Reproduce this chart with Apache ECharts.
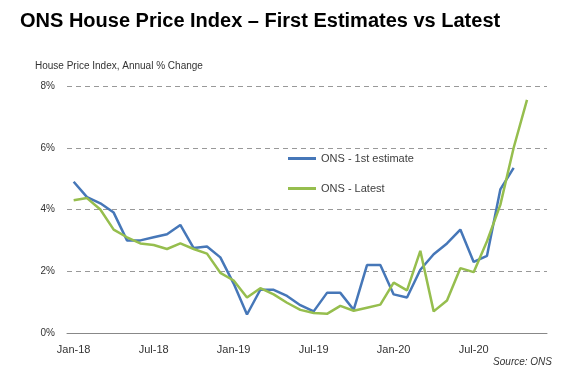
<!DOCTYPE html>
<html>
<head>
<meta charset="utf-8">
<script src="https://cdn.jsdelivr.net/npm/echarts@6/dist/echarts.min.js"></script>
<style>
  html, body { margin: 0; padding: 0; background: #fff; }
  #chart { width: 566px; height: 376px; }
</style>
</head>
<body>
<div id="chart"></div>
<script>
// months Jan-18 .. Dec-20
const months = [
  "Jan-18", "Feb-18", "Mar-18", "Apr-18", "May-18", "Jun-18",
  "Jul-18", "Aug-18", "Sep-18", "Oct-18", "Nov-18", "Dec-18",
  "Jan-19", "Feb-19", "Mar-19", "Apr-19", "May-19", "Jun-19",
  "Jul-19", "Aug-19", "Sep-19", "Oct-19", "Nov-19", "Dec-19",
  "Jan-20", "Feb-20", "Mar-20", "Apr-20", "May-20", "Jun-20",
  "Jul-20", "Aug-20", "Sep-20", "Oct-20", "Nov-20", "Dec-20",
];

// annual % change
const firstEstimate = [
  4.9, 4.4, 4.2, 3.9, 3.0, 3.0, 3.1, 3.2, 3.5, 2.75, 2.8, 2.45,
  1.6, 0.6, 1.4, 1.4, 1.2, 0.9, 0.7, 1.3, 1.3, 0.75, 2.2, 2.2,
  1.25, 1.15, 2.05, 2.55, 2.9, 3.35, 2.3, 2.5, 4.65, 5.35, null, null,
];
const latest = [
  4.3, 4.37, 4.0, 3.35, 3.1, 2.9, 2.85, 2.72, 2.9, 2.72, 2.57, 1.95,
  1.7, 1.15, 1.45, 1.25, 0.98, 0.75, 0.65, 0.62, 0.88, 0.72, 0.82, 0.92,
  1.63, 1.38, 2.66, 0.7, 1.05, 2.1, 1.97, 2.97, 4.15, 6.0, 7.55, null,
];

const chart = echarts.init(document.getElementById("chart"));
const font = "Liberation Sans, Arial, sans-serif";

const option = {
  backgroundColor: "#fff",
  animation: false,
  title: [
    {
      text: "ONS House Price Index – First Estimates vs Latest",
      left: 15,
      top: 6,
      textStyle: { fontFamily: font, fontSize: 20, fontWeight: "bold", color: "#000" },
    },
    {
      text: "House Price Index, Annual % Change",
      left: 30,
      top: 56,
      textStyle: { fontFamily: font, fontSize: 10, fontWeight: "normal", color: "#333" },
    },
  ],
  graphic: [
    {
      type: "text",
      right: 14,
      top: 357,
      style: {
        text: "Source: ONS",
        font: "italic 10px " + font,
        fill: "#333",
      },
    },
  ],
  legend: {
    orient: "vertical",
    left: 283,
    top: 148,
    itemGap: 19,
    itemWidth: 28,
    itemHeight: 3,
    icon: "rect",
    textStyle: { fontFamily: font, fontSize: 11, color: "#404040" },
    data: ["ONS - 1st estimate", "ONS - Latest"],
  },
  grid: {
    left: 67,
    right: 19,
    top: 86,
    bottom: 43,
  },
  xAxis: {
    type: "category",
    data: months,
    boundaryGap: true,
    axisLine: { lineStyle: { color: "#888", width: 1 } },
    axisTick: { interval: 5, length: 3, lineStyle: { color: "#888" } },
    axisLabel: {
      interval: 5,
      margin: 11,
      fontFamily: font,
      fontSize: 11,
      color: "#333",
    },
  },
  yAxis: {
    type: "value",
    min: 0,
    max: 8,
    interval: 2,
    axisLine: { show: false },
    axisTick: { show: false },
    axisLabel: {
      formatter: "{value}%",
      margin: 12,
      fontFamily: font,
      fontSize: 10,
      color: "#333",
    },
    splitLine: {
      lineStyle: { color: "#999", type: [5, 4], width: 1 },
    },
  },
  series: [
    {
      name: "ONS - 1st estimate",
      type: "line",
      data: firstEstimate,
      showSymbol: false,
      symbol: "none",
      color: "#4677B8",
      lineStyle: { width: 2.5, color: "#4677B8" },
    },
    {
      name: "ONS - Latest",
      type: "line",
      data: latest,
      showSymbol: false,
      symbol: "none",
      color: "#96BE4E",
      lineStyle: { width: 2.5, color: "#96BE4E" },
    },
  ],
};

chart.setOption(option);
</script>
</body>
</html>
